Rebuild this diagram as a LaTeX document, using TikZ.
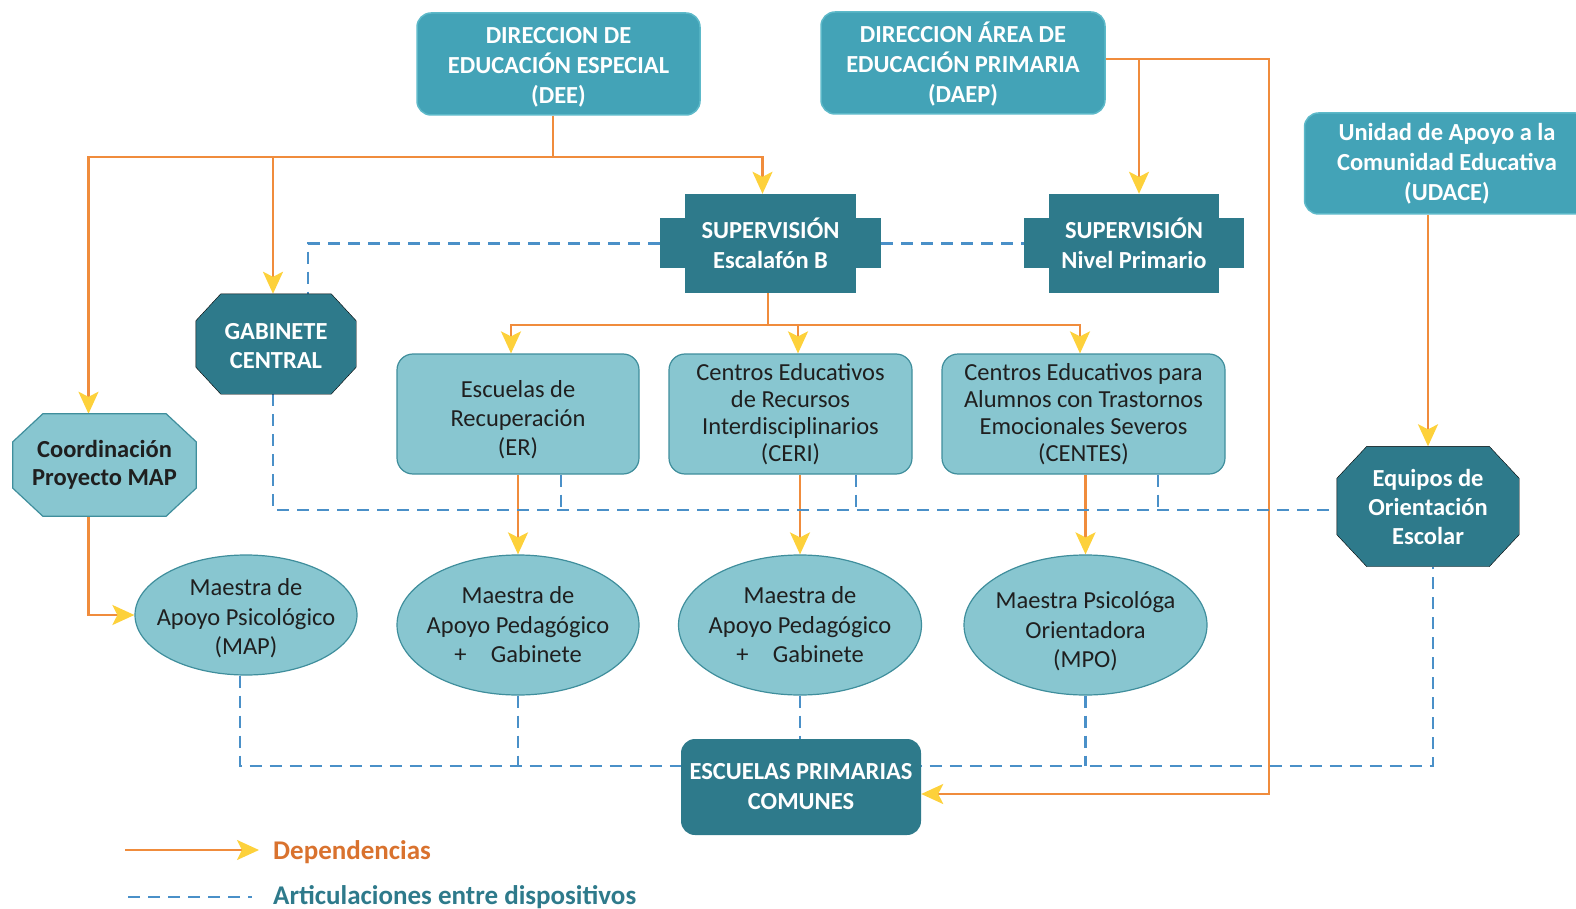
\documentclass[tikz,border=0pt]{standalone}
\usepackage{fontspec}
\setmainfont{Carlito}
\usetikzlibrary{arrows.meta,calc,shapes.geometric}
\definecolor{tealM}{HTML}{43A3B7}
\definecolor{tealMb}{HTML}{5DB9C9}
\definecolor{tealD}{HTML}{2E7A8B}
\definecolor{tealL}{HTML}{88C6D0}
\definecolor{tealLb}{HTML}{3F8E9C}
\definecolor{orng}{HTML}{F08C3C}
\definecolor{yell}{HTML}{FDD13B}
\definecolor{dblue}{HTML}{4A90C8}
\definecolor{legor}{HTML}{D9722E}
\pgfdeclarelayer{lines}
\pgfdeclarelayer{shapes}
\pgfsetlayers{lines,shapes,main}
\newcommand\myocta[4]{%
  \begin{pgfonlayer}{shapes}
  \draw[#4] ($(#1.north west)+(#2,0)$) -- ($(#1.north east)+(-#2,0)$) -- ($(#1.north east)+(0,#3)$) -- ($(#1.south east)+(0,-#3)$) -- ($(#1.south east)+(-#2,0)$) -- ($(#1.south west)+(#2,0)$) -- ($(#1.south west)+(0,-#3)$) -- ($(#1.north west)+(0,#3)$) -- cycle;
  \end{pgfonlayer}}
\newcommand\mytabs[1]{%
  \begin{pgfonlayer}{shapes}
  \fill[tealD] ($(#1.west)+(-25,-25)$) rectangle ($(#1.east)+(25,25)$);
  \end{pgfonlayer}}
\begin{document}
\begin{tikzpicture}[x=1pt,y=-1pt,
  midbox/.style={rectangle, rounded corners=14pt, fill=tealM, draw=tealMb, line width=1.5pt, text=white, font=\bfseries\fontsize{24.5}{30}\selectfont, align=center, inner sep=0pt},
  lightbox/.style={rectangle, rounded corners=16pt, fill=tealL, draw=tealLb, line width=1.2pt, text=black!88, font=\fontsize{24.5}{27}\selectfont, align=center, inner sep=0pt},
  lightell/.style={ellipse, fill=tealL, draw=tealLb, line width=1.2pt, text=black!88, font=\fontsize{24.5}{29.5}\selectfont, align=center, inner sep=-40pt},
  supbox/.style={rectangle, fill=tealD, text=white, font=\bfseries\fontsize{24.5}{30}\selectfont, align=center, inner sep=0pt},
  octtext/.style={rectangle, inner sep=0pt, align=center, font=\bfseries\fontsize{24.5}{29}\selectfont},
  dep/.style={draw=orng, line width=2.2pt, -{Stealth[length=22pt,width=20pt,inset=5pt,color=yell]}},
  depline/.style={draw=orng, line width=2.2pt},
  art/.style={draw=dblue, line width=2.2pt, dash pattern=on 12pt off 8pt},
]
\useasboundingbox (0,0) rectangle (1576,909);

% top boxes
\node[midbox, minimum width=283, minimum height=102] (dee) at (558.5,64) {\rule{0pt}{22pt}DIRECCION DE\\EDUCACIÓN ESPECIAL\\(DEE)};
\node[midbox, minimum width=284, minimum height=102] (daep) at (963,63) {\rule{0pt}{22pt}DIRECCION ÁREA DE\\EDUCACIÓN PRIMARIA\\(DAEP)};
\node[midbox, minimum width=285, minimum height=101] (udace) at (1447,163.5) {Unidad de Apoyo a la\\Comunidad Educativa\\(UDACE)};

% supervision
\node[supbox, minimum width=171, minimum height=99] (sb) at (770.5,243.5) {SUPERVISIÓN\\Escalafón B};
\mytabs{sb}
\node[supbox, minimum width=170, minimum height=99] (ns) at (1134,243.5) {SUPERVISIÓN\\Nivel Primario};
\mytabs{ns}

% octagons
\node[octtext, text=white, minimum width=160, minimum height=100] (gab) at (276,344) {\rule{0pt}{21pt}GABINETE\\CENTRAL};
\myocta{gab}{25}{27}{fill=tealD}
\node[octtext, text=black!88, minimum width=183, minimum height=102, font=\bfseries\fontsize{24.5}{28}\selectfont] (coord) at (104.5,465) {Coordinación\\Proyecto MAP};
\myocta{coord}{30}{28}{fill=tealL, draw=tealLb, line width=1.2pt}
\node[octtext, text=white, minimum width=182, minimum height=120] (eq) at (1428,506.5) {Equipos de\\Orientación\\Escolar};
\myocta{eq}{30}{32}{fill=tealD}

% middle boxes
\node[lightbox, minimum width=242, minimum height=120, font=\fontsize{24.5}{29}\selectfont] (er) at (518,414) {\rule{0pt}{28pt}Escuelas de\\Recuperación\\(ER)};
\node[lightbox, minimum width=243, minimum height=120] (ceri) at (790.5,414) {Centros Educativos\\de Recursos\\Interdisciplinarios\\(CERI)};
\node[lightbox, minimum width=283, minimum height=120] (centes) at (1083.5,414) {Centros Educativos para\\Alumnos con Trastornos\\Emocionales Severos\\(CENTES)};

% ellipses
\node[lightell, minimum width=222, minimum height=120] (e1) at (246,615) {\rule{0pt}{24pt}Maestra de\\Apoyo Psicológico\\(MAP)};
\node[lightell, minimum width=242, minimum height=140] (e2) at (518,625) {Maestra de\\Apoyo Pedagógico\\+\quad Gabinete};
\node[lightell, minimum width=243, minimum height=140] (e3) at (800,625) {Maestra de\\Apoyo Pedagógico\\+\quad Gabinete};
\node[lightell, minimum width=243, minimum height=140] (e4) at (1085.5,625) {\rule{0pt}{30pt}Maestra Psicológa\\Orientadora\\(MPO)};

% bottom box
\node[supbox, rounded corners=14pt, minimum width=240, minimum height=96] (esc) at (801,787) {ESCUELAS PRIMARIAS\\COMUNES};

% coordinates
\coordinate (j1) at (553,157);
\coordinate (j2) at (768,325);
\coordinate (dr) at (1269,794);
\coordinate (mid) at (0,510);
\coordinate (low) at (0,766);
\coordinate (lgA) at (125,850);
\coordinate (lgB) at (259,850);
\coordinate (lgC) at (128,897);
\coordinate (lgD) at (252,897);

\begin{pgfonlayer}{lines}
% dependencies
\draw[depline] (dee.south -| j1) -- (j1);
\draw[dep] (j1) -| ([xshift=-16pt]coord.north);
\draw[dep] (j1) -| ([xshift=-3pt]gab.north);
\draw[dep] (j1) -| ([xshift=-8pt]sb.north);
\draw[dep] ([yshift=4pt]daep.east) -| (dr) -- (esc.east |- dr);
\draw[dep] ([xshift=5pt,yshift=4pt]daep.east -| ns.north) -- ([xshift=5pt]ns.north);
\draw[depline] (sb.south -| j2) -- (j2);
\draw[dep] (j2) -| ([xshift=-7pt]er.north);
\draw[dep] (j2) -| ([xshift=7.5pt]ceri.north);
\draw[dep] (j2) -| ([xshift=-3.5pt]centes.north);
\draw[dep] (e2.north |- er.south) -- (e2.north);
\draw[dep] (e3.north |- ceri.south) -- (e3.north);
\draw[dep] (e4.north |- centes.south) -- (e4.north);
\draw[dep] ([xshift=-16pt]coord.south) |- (e1.west);
\draw[dep] (eq.north |- udace.south) -- (eq.north);
% articulations
\draw[art] ([xshift=-25pt]sb.west) -| ([xshift=32pt]gab.north);
\draw[art] ([xshift=25pt]sb.east) -- ([xshift=-25pt]ns.west);
\draw[art] ([xshift=-3pt]gab.south) |- (eq.west |- mid);
\draw[art] ([xshift=43pt]er.south) -- ([xshift=43pt]er.south |- mid);
\draw[art] ([xshift=65.5pt]ceri.south) -- ([xshift=65.5pt]ceri.south |- mid);
\draw[art] ([xshift=74.5pt]centes.south) -- ([xshift=74.5pt]centes.south |- mid);
\draw[art] ([xshift=-6pt]e1.south) |- ([xshift=5pt]low -| eq.south) -- ([xshift=5pt]eq.south);
\draw[art] (e2.south) -- (e2.south |- low);
\draw[art] (e3.south) -- (e3.south |- esc.north);
\draw[art] (e4.south) -- (e4.south |- low);
% legend
\draw[dep] (lgA) -- (lgB);
\draw[art] (lgC) -- (lgD);
\end{pgfonlayer}
\node[anchor=west, inner sep=0pt, text=legor, font=\bfseries\fontsize{27}{30}\selectfont] (l1) at (273,852) {Dependencias};
\node[anchor=west, inner sep=0pt, text=tealD, font=\bfseries\fontsize{27}{30}\selectfont] (l2) at (273,897) {Articulaciones entre dispositivos};
\end{tikzpicture}
\end{document}
